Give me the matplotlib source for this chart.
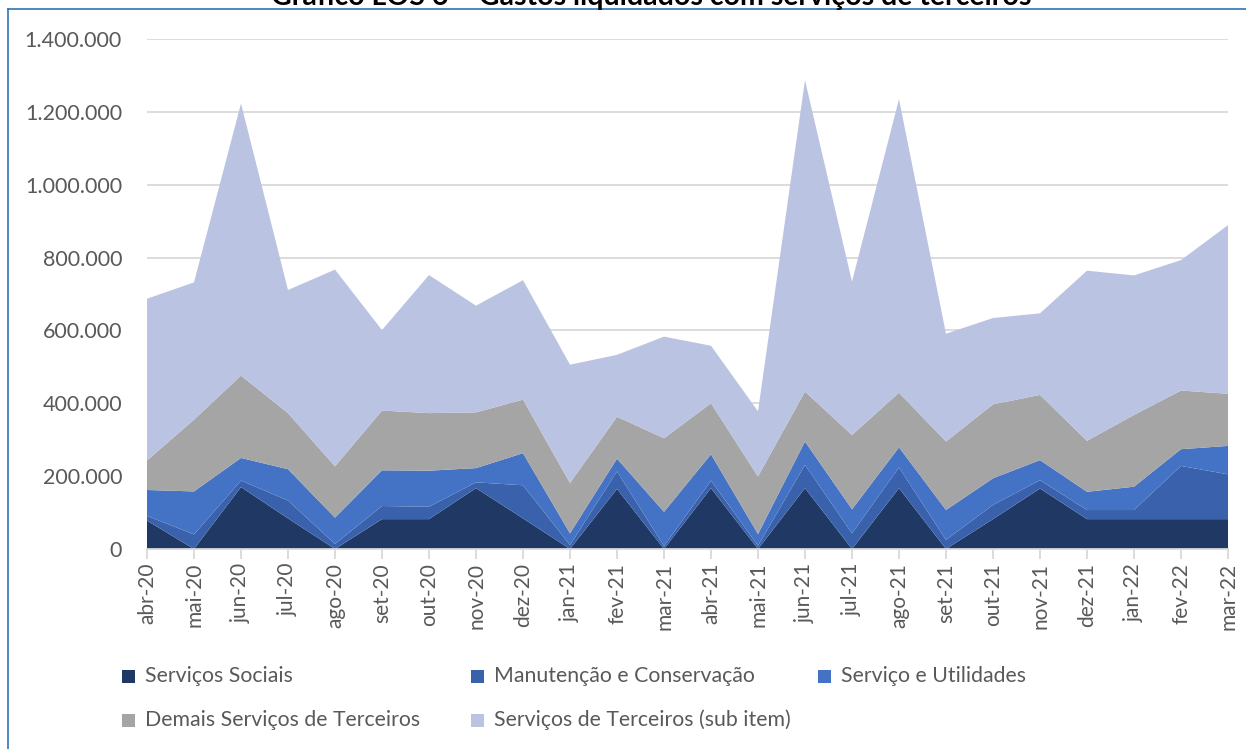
import matplotlib
matplotlib.use("Agg")
import matplotlib.pyplot as plt
from matplotlib.patches import Rectangle
from matplotlib.lines import Line2D
from matplotlib.ticker import FuncFormatter

plt.rcParams['font.family'] = ['Lato', 'DejaVu Sans']

# months and series (R$ mil)
months = ["abr-20", "mai-20", "jun-20", "jul-20", "ago-20", "set-20", "out-20", "nov-20",
          "dez-20", "jan-21", "fev-21", "mar-21", "abr-21", "mai-21", "jun-21", "jul-21",
          "ago-21", "set-21", "out-21", "nov-21", "dez-21", "jan-22", "fev-22", "mar-22"]

servicos_sociais = [78, 0, 170, 84, 0, 82, 82, 167, 84, 0, 165, 0,
                    167, 0, 167, 0, 167, 0, 82, 166, 82, 82, 82, 82]
manutencao = [13, 40, 18, 49, 14, 36, 34, 16, 91, 11, 48, 8,
              21, 9, 64, 43, 57, 25, 39, 23, 25, 25, 146, 123]
utilidades = [71, 118, 62, 86, 72, 98, 99, 39, 88, 32, 35, 94,
              72, 32, 64, 66, 55, 82, 73, 55, 50, 64, 46, 78]
demais = [81, 197, 226, 154, 141, 164, 158, 153, 147, 138, 115, 202,
          140, 158, 137, 204, 150, 188, 203, 179, 140, 197, 161, 143]
sub_item = [444, 377, 747, 338, 540, 221, 379, 293, 328, 325, 170, 279,
            158, 179, 855, 421, 806, 296, 237, 224, 467, 383, 358, 463]

labels = ["Serviços Sociais", "Manutenção e Conservação", "Serviço e Utilidades",
          "Demais Serviços de Terceiros", "Serviços de Terceiros (sub item)"]
colors = ["#203864", "#3A62AC", "#4472C4", "#A5A5A5", "#BAC4E2"]

series = [servicos_sociais, manutencao, utilidades, demais, sub_item]
series = [[v * 1000 for v in s] for s in series]

W, H = 1246, 749
fig = plt.figure(figsize=(W / 100, H / 100), dpi=100)
ax = fig.add_axes([147 / W, (H - 549) / H, (1228 - 147) / W, (549 - 39) / H])

x = list(range(len(months)))
ax.stackplot(x, *series, colors=colors, linewidth=0)

ax.set_xlim(0, len(months) - 1)
ax.set_ylim(0, 1400000)
ax.set_yticks(range(0, 1400001, 200000))
ax.yaxis.set_major_formatter(FuncFormatter(lambda v, p: f"{int(v):,}".replace(",", ".")))
ax.set_xticks(x)
ax.set_xticklabels(months, rotation=90)

ax.grid(axis='y', color='#D9D9D9', linewidth=1.3)
ax.set_axisbelow(True)
for s in ['top', 'right', 'left']:
    ax.spines[s].set_visible(False)
ax.spines['bottom'].set_color('#D9D9D9')
ax.spines['bottom'].set_linewidth(1.3)
ax.tick_params(axis='y', length=0, pad=18, labelsize=15.5, labelcolor='#595959')
ax.tick_params(axis='x', length=7, width=1.3, color='#D9D9D9', pad=3,
               labelsize=15, labelcolor='#595959')

# legend laid out like the Excel grid
col_x = [122, 471, 818]
row_y = [676, 720]
for i, (lab, c) in enumerate(zip(labels, colors)):
    cx = col_x[i % 3]
    cy = row_y[i // 3]
    fig.add_artist(Rectangle((cx / W, (H - cy - 6.5) / H), 13 / W, 13 / H,
                             transform=fig.transFigure, facecolor=c, edgecolor='none'))
    fig.text((cx + 23) / W, (H - cy) / H, lab, va='center', ha='left',
             fontsize=15.3, color='#595959')

# chart frame (partially visible)
fig.add_artist(Line2D([8 / W, 1], [(H - 9) / H, (H - 9) / H], transform=fig.transFigure,
                      color='#2E75B6', linewidth=1.2))
fig.add_artist(Line2D([8 / W, 8 / W], [0, (H - 9) / H], transform=fig.transFigure,
                      color='#2E75B6', linewidth=1.2))

# title, cut at the top edge as in the source
fig.text(651 / W, (H - 5) / H, "Gráfico LOS 6 – Gastos liquidados com serviços de terceiros",
         ha='center', va='baseline', fontsize=20.5, fontweight='bold', color='black')

fig.savefig("out.png", dpi=100)
